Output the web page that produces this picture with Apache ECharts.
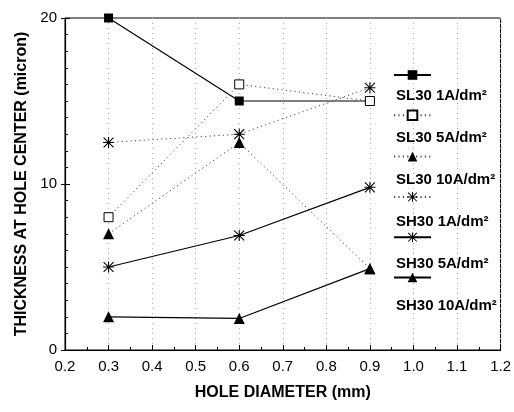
<!DOCTYPE html>
<html>
<head>
<meta charset="utf-8">
<script src="https://cdn.jsdelivr.net/npm/echarts@6/dist/echarts.min.js"></script>
<style>
  html, body { margin: 0; padding: 0; background: #fff; }
  #chart { width: 514px; height: 412px; }
</style>
</head>
<body>
<div id="chart"></div>
<script>
// Hole diameters (mm)
const holeDiameters = [0.3, 0.6, 0.9];

// Thickness at hole centre (micron) per bath / current density
const sl30_1A  = [20, 15, 15];
const sl30_5A  = [8, 16, 15];
const sl30_10A = [7, 12.5, 4.9];
const sh30_1A  = [12.5, 13, 15.8];
const sh30_5A  = [5, 6.9, 9.8];
const sh30_10A = [2, 1.9, 4.9];

const seriesNames = [
  'SL30 1A/dm²', 'SL30 5A/dm²', 'SL30 10A/dm²',
  'SH30 1A/dm²', 'SH30 5A/dm²', 'SH30 10A/dm²'
];

const FONT = '"Liberation Sans", Arial, sans-serif';

// asterisk marker (four crossing bars)
const STAR = 'path://M9 0L11 0L11 20L9 20Z M0 9L20 9L20 11L0 11Z ' +
  'M1.7 0.3L19.7 18.3L18.3 19.7L0.3 1.7Z M18.3 0.3L19.7 1.7L1.7 19.7L0.3 18.3Z';

const solid = { color: '#000', width: 1.2, type: 'solid' };
const dotted = { color: '#444', width: 1, type: [1.2, 3.2] };

function pts(vals) { return holeDiameters.map((d, i) => [d, vals[i]]); }

const styles = [
  { data: sl30_1A,  symbol: 'rect',     size: 9,  line: solid,  item: { color: '#000' } },
  { data: sl30_5A,  symbol: 'rect',     size: 9,  line: dotted, item: { color: '#fff', borderColor: '#000', borderWidth: 1 } },
  { data: sl30_10A, symbol: 'triangle', size: 11, line: dotted, item: { color: '#000' } },
  { data: sh30_1A,  symbol: STAR,       size: 11, line: dotted, item: { color: '#000' } },
  { data: sh30_5A,  symbol: STAR,       size: 11, line: solid,  item: { color: '#000' } },
  { data: sh30_10A, symbol: 'triangle', size: 11, line: solid,  item: { color: '#000' } }
];

const series = styles.map((s, i) => ({
  name: seriesNames[i],
  type: 'line',
  data: pts(s.data),
  symbol: s.symbol,
  symbolSize: s.size,
  showAllSymbol: true,
  lineStyle: s.line,
  itemStyle: s.item,
  z: i === 1 ? 4 : 3,
  emphasis: { disabled: true },
  animation: false
}));

const chart = echarts.init(document.getElementById('chart'), null, { renderer: 'canvas' });

chart.setOption({
  backgroundColor: '#fff',
  animation: false,
  grid: {
    left: 65, right: 12, top: 18, bottom: 62,
    show: true, borderColor: '#000', borderWidth: 1, backgroundColor: 'transparent'
  },
  legend: [
    {
      // marker + line samples
      data: seriesNames,
      orient: 'vertical',
      left: 393, top: 69, padding: 0,
      itemWidth: 37, itemHeight: 12, itemGap: 29.5,
      selectedMode: false,
      formatter: () => '',
      textStyle: { fontSize: 1 }
    },
    {
      // labels under each sample
      data: seriesNames,
      orient: 'vertical',
      left: 390, top: 88, padding: 0,
      itemWidth: 0, itemHeight: 0, itemGap: 26,
      selectedMode: false,
      textStyle: { fontFamily: FONT, fontSize: 15, fontWeight: 'bold', color: '#000', lineHeight: 16 }
    }
  ],
  xAxis: {
    type: 'value',
    min: 0.2, max: 1.2, interval: 0.1,
    name: 'HOLE DIAMETER (mm)',
    nameLocation: 'middle', nameGap: 35,
    nameTextStyle: { fontFamily: FONT, fontSize: 16, fontWeight: 'bold', color: '#000' },
    axisLine: { lineStyle: { color: '#000', width: 1.2 } },
    axisTick: { inside: true, length: 5, lineStyle: { color: '#000' } },
    minorTick: { show: true, splitNumber: 2, length: 3, lineStyle: { color: '#000' } },
    axisLabel: {
      fontFamily: FONT, fontSize: 15, color: '#000', margin: 9,
      formatter: v => v.toFixed(1)
    },
    splitLine: { show: true, lineStyle: { color: '#aaa', width: 1, type: [1, 4] } }
  },
  yAxis: [
    {
      type: 'value',
      min: 0, max: 20, interval: 10,
      name: 'THICKNESS AT HOLE CENTER (micron)',
      nameLocation: 'middle', nameGap: 35,
      nameTextStyle: { fontFamily: FONT, fontSize: 16, fontWeight: 'bold', color: '#000' },
      axisLine: { lineStyle: { color: '#000', width: 1.2 } },
      axisTick: { inside: true, length: 5, lineStyle: { color: '#000' } },
      minorTick: { show: true, splitNumber: 10, length: 3, lineStyle: { color: '#000' } },
      axisLabel: { fontFamily: FONT, fontSize: 15, color: '#000', margin: 8 },
      splitLine: { show: false }
    },
    {
      // short outward marks at the labelled values
      type: 'value',
      position: 'left',
      min: 0, max: 20, interval: 10,
      axisLine: { show: false },
      axisTick: { show: true, inside: false, length: 4, lineStyle: { color: '#000' } },
      axisLabel: { show: false },
      splitLine: { show: false }
    }
  ],
  series: series
});
</script>
</body>
</html>
